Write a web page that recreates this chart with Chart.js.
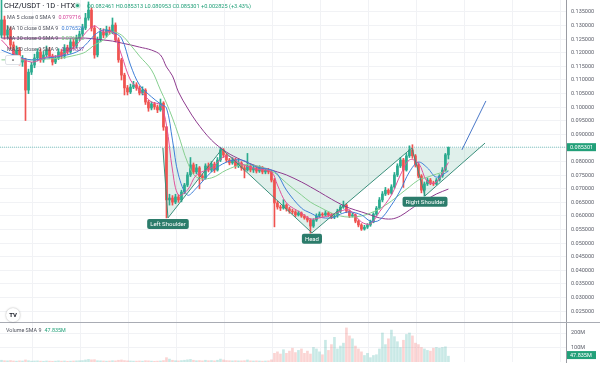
<!DOCTYPE html>
<html lang="en">
<head>
<meta charset="UTF-8">
<title>CHZ/USDT 1D HTX</title>
<script src="https://cdn.jsdelivr.net/npm/chart.js"></script>
<style>
    body {
        margin: 0;
        background: #fff;
        font-family: Roboto, 'Noto Sans', sans-serif;
    }
    .wrap {
        position: relative;
        width: 600px;
        height: 365px;
        overflow: hidden;
    }
    #pricePane { position: absolute; left: 0; top: 0; width: 600px; height: 323px; }
    #volPane { position: absolute; left: 0; top: 323px; width: 600px; height: 42px; }
    .sep { position: absolute; left: 0; top: 322px; width: 600px; height: 1px; background: #a9acb4; }
    .txt { position: absolute; white-space: nowrap; line-height: 10px; }
    .title { left: 4px; top: 1px; font-size: 7.5px; color: #131722; }
    .dot { position: absolute; left: 76px; top: 4px; width: 3px; height: 3px; border-radius: 50%;
           background: #22a079; box-shadow: 0 0 0 1.5px rgba(34,160,121,0.25); }
    .ohlc { left: 87px; top: 1px; font-size: 5.6px; color: #22a079; }
    .ma { left: 7px; font-size: 5.4px; color: #50535e; }
    .ma b { font-weight: normal; margin-left: 3px; }
    .btn { position: absolute; left: 5px; top: 55px; width: 14px; height: 8px; border: 1px solid #dfe2e8;
           border-radius: 2px; background: #fff; font-size: 6px; line-height: 9px; text-align: center; color: #333; }
    .logo { position: absolute; left: 6px; top: 308px; width: 14px; height: 14px; border-radius: 50%;
            background: #fff; box-shadow: 0 0 2px rgba(0,0,0,0.35); font-size: 6px; font-weight: bold;
            line-height: 14px; text-align: center; color: #131722; }
    .vol { left: 6px; top: 325px; font-size: 5.4px; color: #50535e; }
    .vol b { font-weight: normal; color: #22a079; margin-left: 3px; }
</style>
</head>
<body>
<div class="wrap">
    <div id="pricePane"><canvas id="priceCanvas"></canvas></div>
    <div class="sep"></div>
    <div id="volPane"><canvas id="volCanvas"></canvas></div>

    <div class="txt title">CHZ/USDT · 1D · HTX</div>
    <div class="dot"></div>
    <div class="txt ohlc">O0.082461 H0.085313 L0.080953 C0.085301 +0.002825 (+3.43%)</div>
    <div class="txt ma" style="top:12px">MA 5 close 0 SMA 9<b style="color:#d6409a">0.079716</b></div>
    <div class="txt ma" style="top:23px">MA 10 close 0 SMA 9<b style="color:#3a7bd5">0.076520</b></div>
    <div class="txt ma" style="top:33px">MA 30 close 0 SMA 9<b style="color:#6cbf7a">0.076672</b></div>
    <div class="txt ma" style="top:44px">MA 60 close 0 SMA 9<b style="color:#8e3b8e">0.069837</b></div>
    <div class="btn">^</div>
    <div class="logo">TV</div>
    <div class="txt vol">Volume SMA 9<b>47.835M</b></div>
</div>

<script>
    // daily candles
    const opens = [.1265,.1321,.1265,.1284,.1229,.1192,.1210,.1166,.1174,.1063,
        .1129,.1155,.1181,.1203,.1174,.1192,.1210,.1188,.1166,.1181,
        .1203,.1188,.1218,.1203,.1240,.1225,.1254,.1269,.1291,.1328,
        .1357,.1291,.1192,.1247,.1276,.1265,.1284,.1276,.1302,.1247,
        .1174,.1118,.1071,.1056,.1074,.1082,.1071,.1052,.1063,.1019,
        .0997,.1012,.1001,.0990,.1015,.0927,.0659,.0666,.0651,.0670,
        .0659,.0688,.0714,.0751,.0788,.0762,.0777,.0747,.0740,.0784,
        .0769,.0791,.0769,.0806,.0843,.0824,.0806,.0795,.0806,.0784,
        .0795,.0777,.0769,.0784,.0769,.0777,.0765,.0777,.0762,.0769,
        .0762,.0732,.0648,.0633,.0629,.0640,.0626,.0618,.0615,.0604,
        .0611,.0600,.0593,.0585,.0563,.0585,.0600,.0607,.0604,.0611,
        .0604,.0596,.0600,.0618,.0633,.0640,.0618,.0600,.0604,.0581,
        .0567,.0552,.0559,.0567,.0578,.0607,.0629,.0659,.0681,.0695,
        .0684,.0707,.0751,.0784,.0806,.0769,.0821,.0843,.0821,.0788,
        .0747,.0695,.0718,.0732,.0721,.0718,.0732,.0747,.0769,.082461];
    const highs = [.1394,.1335,.1300,.1295,.1240,.1225,.1220,.1190,.1180,.1140,
        .1165,.1195,.1215,.1215,.1205,.1225,.1220,.1195,.1190,.1215,
        .1212,.1230,.1228,.1252,.1250,.1265,.1280,.1305,.1345,.1387,
        .1365,.1300,.1258,.1290,.1288,.1298,.1295,.1328,.1310,.1255,
        .1180,.1125,.1080,.1085,.1095,.1090,.1078,.1075,.1068,.1025,
        .1020,.1018,.1008,.1030,.1020,.0930,.0680,.0675,.0680,.0678,
        .0695,.0720,.0760,.0815,.0795,.0790,.0782,.0755,.0792,.0795,
        .0800,.0798,.0815,.0852,.0848,.0830,.0812,.0815,.0812,.0810,
        .0800,.0785,.0830,.0790,.0785,.0782,.0785,.0782,.0776,.0775,
        .0768,.0738,.0655,.0640,.0660,.0645,.0632,.0625,.0620,.0618,
        .0615,.0605,.0598,.0590,.0590,.0608,.0615,.0612,.0620,.0615,
        .0610,.0608,.0625,.0640,.0655,.0645,.0622,.0612,.0608,.0586,
        .0572,.0566,.0572,.0585,.0612,.0635,.0668,.0690,.0705,.0700,
        .0715,.0760,.0792,.0815,.0812,.0830,.0858,.0862,.0826,.0795,
        .0752,.0725,.0740,.0738,.0728,.0738,.0752,.0778,.0830,.085313];
    const lows = [.1255,.1250,.1255,.1215,.1180,.1180,.1155,.1150,.0951,.1050,
        .1120,.1145,.1170,.1165,.1165,.1185,.1180,.1155,.1160,.1175,
        .1178,.1180,.1195,.1198,.1215,.1218,.1245,.1262,.1285,.1320,
        .1280,.1180,.1185,.1240,.1255,.1258,.1268,.1270,.1240,.1165,
        .1100,.1045,.1045,.1050,.1068,.1062,.1045,.1045,.1010,.0985,
        .0990,.0992,.0980,.0985,.0915,.0593,.0640,.0640,.0645,.0650,
        .0652,.0682,.0708,.0745,.0755,.0755,.0700,.0730,.0735,.0762,
        .0762,.0760,.0765,.0800,.0815,.0798,.0788,.0790,.0775,.0778,
        .0768,.0740,.0765,.0762,.0760,.0758,.0760,.0755,.0755,.0755,
        .0725,.0560,.0625,.0620,.0625,.0618,.0610,.0608,.0598,.0600,
        .0595,.0588,.0578,.0537,.0558,.0580,.0595,.0598,.0600,.0598,
        .0590,.0590,.0595,.0612,.0628,.0612,.0594,.0596,.0575,.0560,
        .0547,.0548,.0554,.0562,.0575,.0602,.0625,.0652,.0675,.0678,
        .0680,.0702,.0745,.0778,.0705,.0765,.0815,.0812,.0780,.0740,
        .0685,.0673,.0712,.0715,.0712,.0714,.0728,.0742,.0765,.080953];
    const closes = [.1321,.1265,.1284,.1229,.1192,.1210,.1166,.1174,.1063,.1129,
        .1155,.1181,.1203,.1174,.1192,.1210,.1188,.1166,.1181,.1203,
        .1188,.1218,.1203,.1240,.1225,.1254,.1269,.1291,.1328,.1357,
        .1291,.1192,.1247,.1276,.1265,.1284,.1276,.1302,.1247,.1174,
        .1118,.1071,.1056,.1074,.1082,.1071,.1052,.1063,.1019,.0997,
        .1012,.1001,.0990,.1015,.0927,.0659,.0666,.0651,.0670,.0659,
        .0688,.0714,.0751,.0788,.0762,.0777,.0747,.0740,.0784,.0769,
        .0791,.0769,.0806,.0843,.0824,.0806,.0795,.0806,.0784,.0795,
        .0777,.0769,.0784,.0769,.0777,.0765,.0777,.0762,.0769,.0762,
        .0732,.0648,.0633,.0629,.0640,.0626,.0618,.0615,.0604,.0611,
        .0600,.0593,.0585,.0563,.0585,.0600,.0607,.0604,.0611,.0604,
        .0596,.0600,.0618,.0633,.0640,.0618,.0600,.0604,.0581,.0567,
        .0552,.0559,.0567,.0578,.0607,.0629,.0659,.0681,.0695,.0684,
        .0707,.0751,.0784,.0806,.0769,.0821,.0843,.0821,.0788,.0747,
        .0695,.0718,.0732,.0721,.0718,.0732,.0747,.0769,.0825,.085301];
    // volume in millions
    const volumes = [12,9,8,10,7,6,8,7,14,9,
        6,7,8,6,5,7,6,5,6,8,
        6,7,5,6,7,8,9,10,14,18,
        15,16,9,8,7,6,7,9,8,12,
        14,10,8,7,6,6,7,6,9,8,
        6,5,6,7,10,30,20,12,9,8,
        10,12,15,18,12,9,10,8,12,9,
        10,8,12,20,14,10,9,8,9,8,
        8,9,14,8,7,8,7,6,7,8,
        15,60,70,55,85,60,75,95,65,80,
        90,60,75,55,100,90,70,50,150,80,
        120,170,90,110,130,235,180,160,110,90,
        70,45,60,30,45,50,90,200,120,160,
        220,175,140,100,150,190,200,180,130,120,
        100,90,80,75,95,100,95,100,105,40];

    // moving averages, sampled at these candle indexes
    const maIdx = [0,5,10,15,20,25,28,31,34,37,40,43,46,50,53,55,57,59,62,65,70,75,80,85,90,92,95,100,103,106,110,113,116,120,123,126,130,133,136,139,142,145,149];
    const ma5 = [.1247,.1192,.1166,.1184,.1192,.1229,.1273,.1298,.1276,.1276,.1192,.1100,.1063,.1019,.1008,.0934,.0769,.0677,.0695,.0751,.0777,.0821,.0791,.0773,.0762,.0714,.0648,.0611,.0589,.0593,.0604,.0618,.0622,.0578,.0571,.0615,.0677,.0751,.0806,.0795,.0725,.0725,.0797];
    const ma10 = [.1210,.1188,.1174,.1181,.1188,.1203,.1229,.1265,.1284,.1276,.1254,.1155,.1082,.1038,.1012,.0997,.0879,.0751,.0677,.0703,.0762,.0798,.0806,.0780,.0769,.0754,.0695,.0629,.0611,.0596,.0593,.0607,.0615,.0604,.0581,.0585,.0640,.0695,.0762,.0798,.0777,.0743,.0765];
    const ma30 = [.1174,.1174,.1174,.1177,.1181,.1192,.1203,.1229,.1247,.1276,.1265,.1229,.1188,.1137,.1063,.1015,.0960,.0898,.0798,.0743,.0740,.0769,.0788,.0784,.0765,.0751,.0721,.0677,.0651,.0633,.0611,.0600,.0596,.0600,.0611,.0626,.0655,.0681,.0707,.0732,.0743,.0754,.0767];
    const ma60 = [.1254,.1254,.1254,.1254,.1254,.1254,.1254,.1251,.1247,.1243,.1236,.1229,.1221,.1210,.1192,.1148,.1115,.1056,.0997,.0946,.0879,.0835,.0806,.0784,.0769,.0762,.0751,.0725,.0707,.0688,.0662,.0644,.0629,.0615,.0604,.0593,.0589,.0600,.0622,.0644,.0662,.0681,.0699];

    // head and shoulders drawing: start, left shoulder, neck, head, neck, right shoulder, end
    const patternIdx = [53.8, 55.5, 73.5, 103.5, 136.8, 141.2, 161.2];
    const patternPx = [.0850, .0593, .0846, .0538, .0850, .0674, .0868];
    const fillEndIdx = 159.3;
    const necklinePx = .0850;
    const tagText = ['Left Shoulder', 'Head', 'Right Shoulder'];
    const tagAt = [1, 3, 5];
    const projIdx = [153.5, 161.5];
    const projPx = [.0843, .1023];

    const lastPrice = 0.085301;
    const volSma = 47.835;
    const priceTicks = [.025,.030,.035,.040,.045,.050,.055,.060,.065,.070,.075,.080,.085,.090,.095,.100,.105,.110,.115,.120,.125,.130,.135];
    const volTicks = [100, 200];
    const vGridAt = [2.5, 18.5, 34.5, 50.5, 66.5, 82.5, 98.5, 114.5, 130.5, 146.5, 162.5, 178.5];

    const xMin = -0.5, xMax = 188.2;
    const priceMin = 0.02066, priceMax = 0.13941;
    const volMax = 269;

    const UP = '#2bab8f', DOWN = '#ef5350';
    const GRID = '#f1f2f5', AXIS = '#9a9ca3', TICK = '#5d606b';
    const candleColor = closes.map((c, i) => c >= opens[i] ? UP : DOWN);
    const volColor = closes.map((c, i) => c >= opens[i] ? 'rgba(38,166,154,0.25)' : 'rgba(239,83,80,0.25)');

    Chart.defaults.font.family = "Roboto, 'Noto Sans', sans-serif";

    function xAxis() {
        return {
            type: 'linear', min: xMin, max: xMax, offset: false,
            ticks: { display: false },
            grid: { color: GRID, drawTicks: false },
            border: { display: false },
            afterBuildTicks: s => { s.ticks = vGridAt.map(v => ({ value: v })); },
            afterFit: s => { s.height = 0; s.paddingLeft = 0; s.paddingRight = 0; }
        };
    }

    function tag(ctx, text, cx, top) {
        ctx.font = "6px Roboto, 'Noto Sans', sans-serif";
        const w = ctx.measureText(text).width + 6;
        ctx.fillStyle = '#2c7c6b';
        ctx.beginPath();
        ctx.roundRect(cx - w / 2, top, w, 10, 2);
        ctx.fill();
        ctx.fillStyle = '#fff';
        ctx.textAlign = 'center';
        ctx.textBaseline = 'middle';
        ctx.fillText(text, cx, top + 5.5);
    }

    function axisBox(chart, text, yPix) {
        const ctx = chart.ctx, left = chart.chartArea.right + 1;
        ctx.save();
        ctx.fillStyle = '#22a079';
        ctx.fillRect(left, yPix - 4, 29, 8);
        ctx.font = "5.5px Roboto, 'Noto Sans', sans-serif";
        ctx.fillStyle = '#fff';
        ctx.textAlign = 'left';
        ctx.textBaseline = 'middle';
        ctx.fillText(text, left + 3, yPix + 0.5);
        ctx.restore();
    }

    const priceOverlay = {
        id: 'priceOverlay',
        afterDatasetsDraw(chart) {
            const { ctx, scales: { x, y } } = chart;
            ctx.save();
            tagAt.forEach((p, k) => {
                tag(ctx, tagText[k], x.getPixelForValue(patternIdx[p]), y.getPixelForValue(patternPx[p]) + 1);
            });
            ctx.restore();
        },
        afterDraw(chart) {
            axisBox(chart, lastPrice.toFixed(6), chart.scales.y.getPixelForValue(lastPrice));
        }
    };

    const volOverlay = {
        id: 'volOverlay',
        afterDraw(chart) {
            axisBox(chart, volSma.toFixed(3) + 'M', chart.scales.y.getPixelForValue(volSma));
        }
    };

    const line = (idx, vals, color, order) => ({
        type: 'line',
        data: idx.map((v, k) => ({ x: v, y: vals[k] })),
        borderColor: color, borderWidth: 1, pointRadius: 0, tension: 0.35, fill: false, order
    });

    const fillPts = patternIdx.slice(0, 6).map((v, k) => ({ x: v, y: patternPx[k] }));
    fillPts.push({ x: fillEndIdx, y: necklinePx });

    new Chart(document.getElementById('priceCanvas'), {
        type: 'bar',
        data: {
            datasets: [
                {
                    type: 'line', data: fillPts, borderWidth: 0, pointRadius: 0,
                    backgroundColor: 'rgba(60,160,130,0.16)', fill: { value: necklinePx }, order: 20
                },
                {
                    type: 'line', data: [{ x: xMin, y: lastPrice }, { x: xMax, y: lastPrice }],
                    borderColor: 'rgba(38,166,154,0.55)', borderWidth: 1, borderDash: [1, 1],
                    pointRadius: 0, fill: false, order: 19
                },
                {
                    data: closes.map((c, i) => ({ x: i, y: [lows[i], highs[i]] })),
                    backgroundColor: candleColor, barThickness: 1, grouped: false, order: 12
                },
                {
                    data: closes.map((c, i) => ({ x: i, y: [opens[i], c] })),
                    backgroundColor: candleColor, barThickness: 2, grouped: false, order: 11
                },
                line(maIdx, ma60, '#8e3b8e', 6),
                line(maIdx, ma30, '#86cf8f', 5),
                line(maIdx, ma10, '#3f7fd8', 4),
                line(maIdx, ma5, '#e0529c', 3),
                {
                    type: 'line', data: patternIdx.map((v, k) => ({ x: v, y: patternPx[k] })),
                    borderColor: '#3a8f7b', borderWidth: 1, pointRadius: 0, fill: false, order: 2
                },
                {
                    type: 'line', data: projIdx.map((v, k) => ({ x: v, y: projPx[k] })),
                    borderColor: '#4a78c8', borderWidth: 1, pointRadius: 0, fill: false, order: 1
                }
            ]
        },
        options: {
            responsive: true, maintainAspectRatio: false, animation: false,
            layout: { padding: 0 },
            plugins: { legend: { display: false }, tooltip: { enabled: false } },
            scales: {
                x: xAxis(),
                y: {
                    position: 'right', min: priceMin, max: priceMax,
                    grid: { color: GRID, drawTicks: false },
                    border: { color: AXIS },
                    ticks: { color: TICK, font: { size: 5.5 }, padding: 5, callback: v => v.toFixed(6) },
                    afterBuildTicks: s => { s.ticks = priceTicks.map(v => ({ value: v })); },
                    afterFit: s => { s.width = 34; s.paddingTop = 0; s.paddingBottom = 0; }
                }
            }
        },
        plugins: [priceOverlay]
    });

    new Chart(document.getElementById('volCanvas'), {
        type: 'bar',
        data: {
            datasets: [{
                data: volumes.map((v, i) => ({ x: i, y: v })),
                backgroundColor: volColor, barThickness: 2, grouped: false
            }]
        },
        options: {
            responsive: true, maintainAspectRatio: false, animation: false,
            layout: { padding: { bottom: 3 } },
            plugins: { legend: { display: false }, tooltip: { enabled: false } },
            scales: {
                x: xAxis(),
                y: {
                    position: 'right', min: 0, max: volMax,
                    grid: { color: GRID, drawTicks: false },
                    border: { color: AXIS },
                    ticks: { color: TICK, font: { size: 5.5 }, padding: 5, callback: v => v + 'M' },
                    afterBuildTicks: s => { s.ticks = volTicks.map(v => ({ value: v })); },
                    afterFit: s => { s.width = 34; s.paddingTop = 0; s.paddingBottom = 0; }
                }
            }
        },
        plugins: [volOverlay]
    });
</script>
</body>
</html>
